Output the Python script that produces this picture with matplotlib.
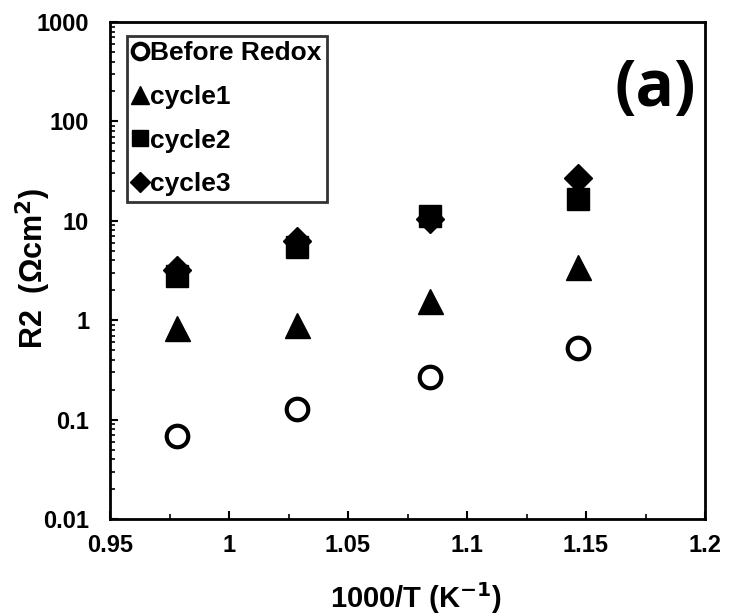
import matplotlib
matplotlib.use("Agg")
import matplotlib.pyplot as plt
from matplotlib.ticker import LogLocator, FixedLocator, MultipleLocator, FuncFormatter

plt.rcParams['font.family'] = ['Liberation Sans', 'DejaVu Sans']
plt.rcParams['font.weight'] = 'bold'
plt.rcParams['mathtext.default'] = 'bf'

inv_T = [0.978, 1.0285, 1.0845, 1.1465]
before_redox = [0.068, 0.128, 0.27, 0.53]
cycle1 = [0.83, 0.89, 1.55, 3.4]
cycle2 = [2.8, 5.45, 11.2, 16.6]
cycle3 = [3.2, 6.2, 10.5, 27.0]
y_ticks = [0.01, 0.1, 1, 10, 100, 1000]
y_tick_labels = ['0.01', '0.1', '1', '10', '100', '1000']
x_ticks = [0.95, 1.0, 1.05, 1.1, 1.15, 1.2]
x_tick_labels = ['0.95', '1', '1.05', '1.1', '1.15', '1.2']

fig = plt.figure(figsize=(7.37, 6.16), dpi=100)
ax = fig.add_axes([110/737, 1-519/616, 595/737, 497/616])
ax.set_yscale('log')

ax.plot(inv_T, cycle3, linestyle='none', marker='D', ms=14, color='black', label='cycle3', zorder=2)
ax.plot(inv_T, cycle2, linestyle='none', marker='s', ms=16.5, color='black', label='cycle2', zorder=3)
ax.plot(inv_T, cycle1, linestyle='none', marker='^', ms=18, color='black', label='cycle1', zorder=3)
ax.plot(inv_T, before_redox, linestyle='none', marker='o', ms=15.5, mfc='white', mec='black', mew=3,
        color='black', label='Before Redox', zorder=3)

ax.set_xlim(0.95, 1.2)
ax.set_ylim(0.01, 1000)
ax.xaxis.set_major_locator(FixedLocator(x_ticks))
ax.set_xticklabels(x_tick_labels)
ax.xaxis.set_minor_locator(MultipleLocator(0.025))
ax.yaxis.set_major_locator(FixedLocator(y_ticks))
ax.set_yticklabels(y_tick_labels)
ax.yaxis.set_minor_locator(LogLocator(base=10, subs=range(2, 10), numticks=20))
ax.yaxis.set_minor_formatter(FuncFormatter(lambda v, p: ''))

ax.tick_params(axis='both', which='major', direction='in', length=6, width=1.5,
               labelsize=17, top=False, right=False)
ax.tick_params(axis='both', which='minor', direction='in', length=3.5, width=1.2,
               top=False, right=False)
ax.tick_params(axis='x', which='major', pad=11)
ax.tick_params(axis='y', which='major', pad=15)
for lab in ax.get_xticklabels() + ax.get_yticklabels():
    lab.set_fontweight('bold')
for sp in ax.spines.values():
    sp.set_linewidth(2)

ax.set_xlabel('1000/T (K$^{-1}$)', fontsize=21, fontweight='bold')
ax.xaxis.set_label_coords((416 - 110) / 595, -0.122)
ax.set_ylabel('R2  (Ωcm$^{2}$)', fontsize=22, fontweight='bold')
ax.yaxis.set_label_coords((53 - 110) / 595, 1 - (268 - 22) / 497)

handles, labels = ax.get_legend_handles_labels()
order = [3, 2, 1, 0]
leg = ax.legend([handles[i] for i in order], [labels[i] for i in order],
                loc='upper left', bbox_to_anchor=(0.02, 0.983), frameon=True, fancybox=False,
                edgecolor='black', handlelength=0.55, handletextpad=0.12, markerscale=0.72,
                labelspacing=0.75, borderpad=0.2, borderaxespad=0.2,
                prop={'size': 19, 'weight': 'bold'})
leg.get_frame().set_linewidth(2)

ax.text(0.985, 0.865, '(a)', transform=ax.transAxes, ha='right', va='center',
        fontsize=46, fontweight='bold', family=['Open Sans', 'DejaVu Sans'])

fig.savefig('out.png', dpi=100, facecolor='white')
